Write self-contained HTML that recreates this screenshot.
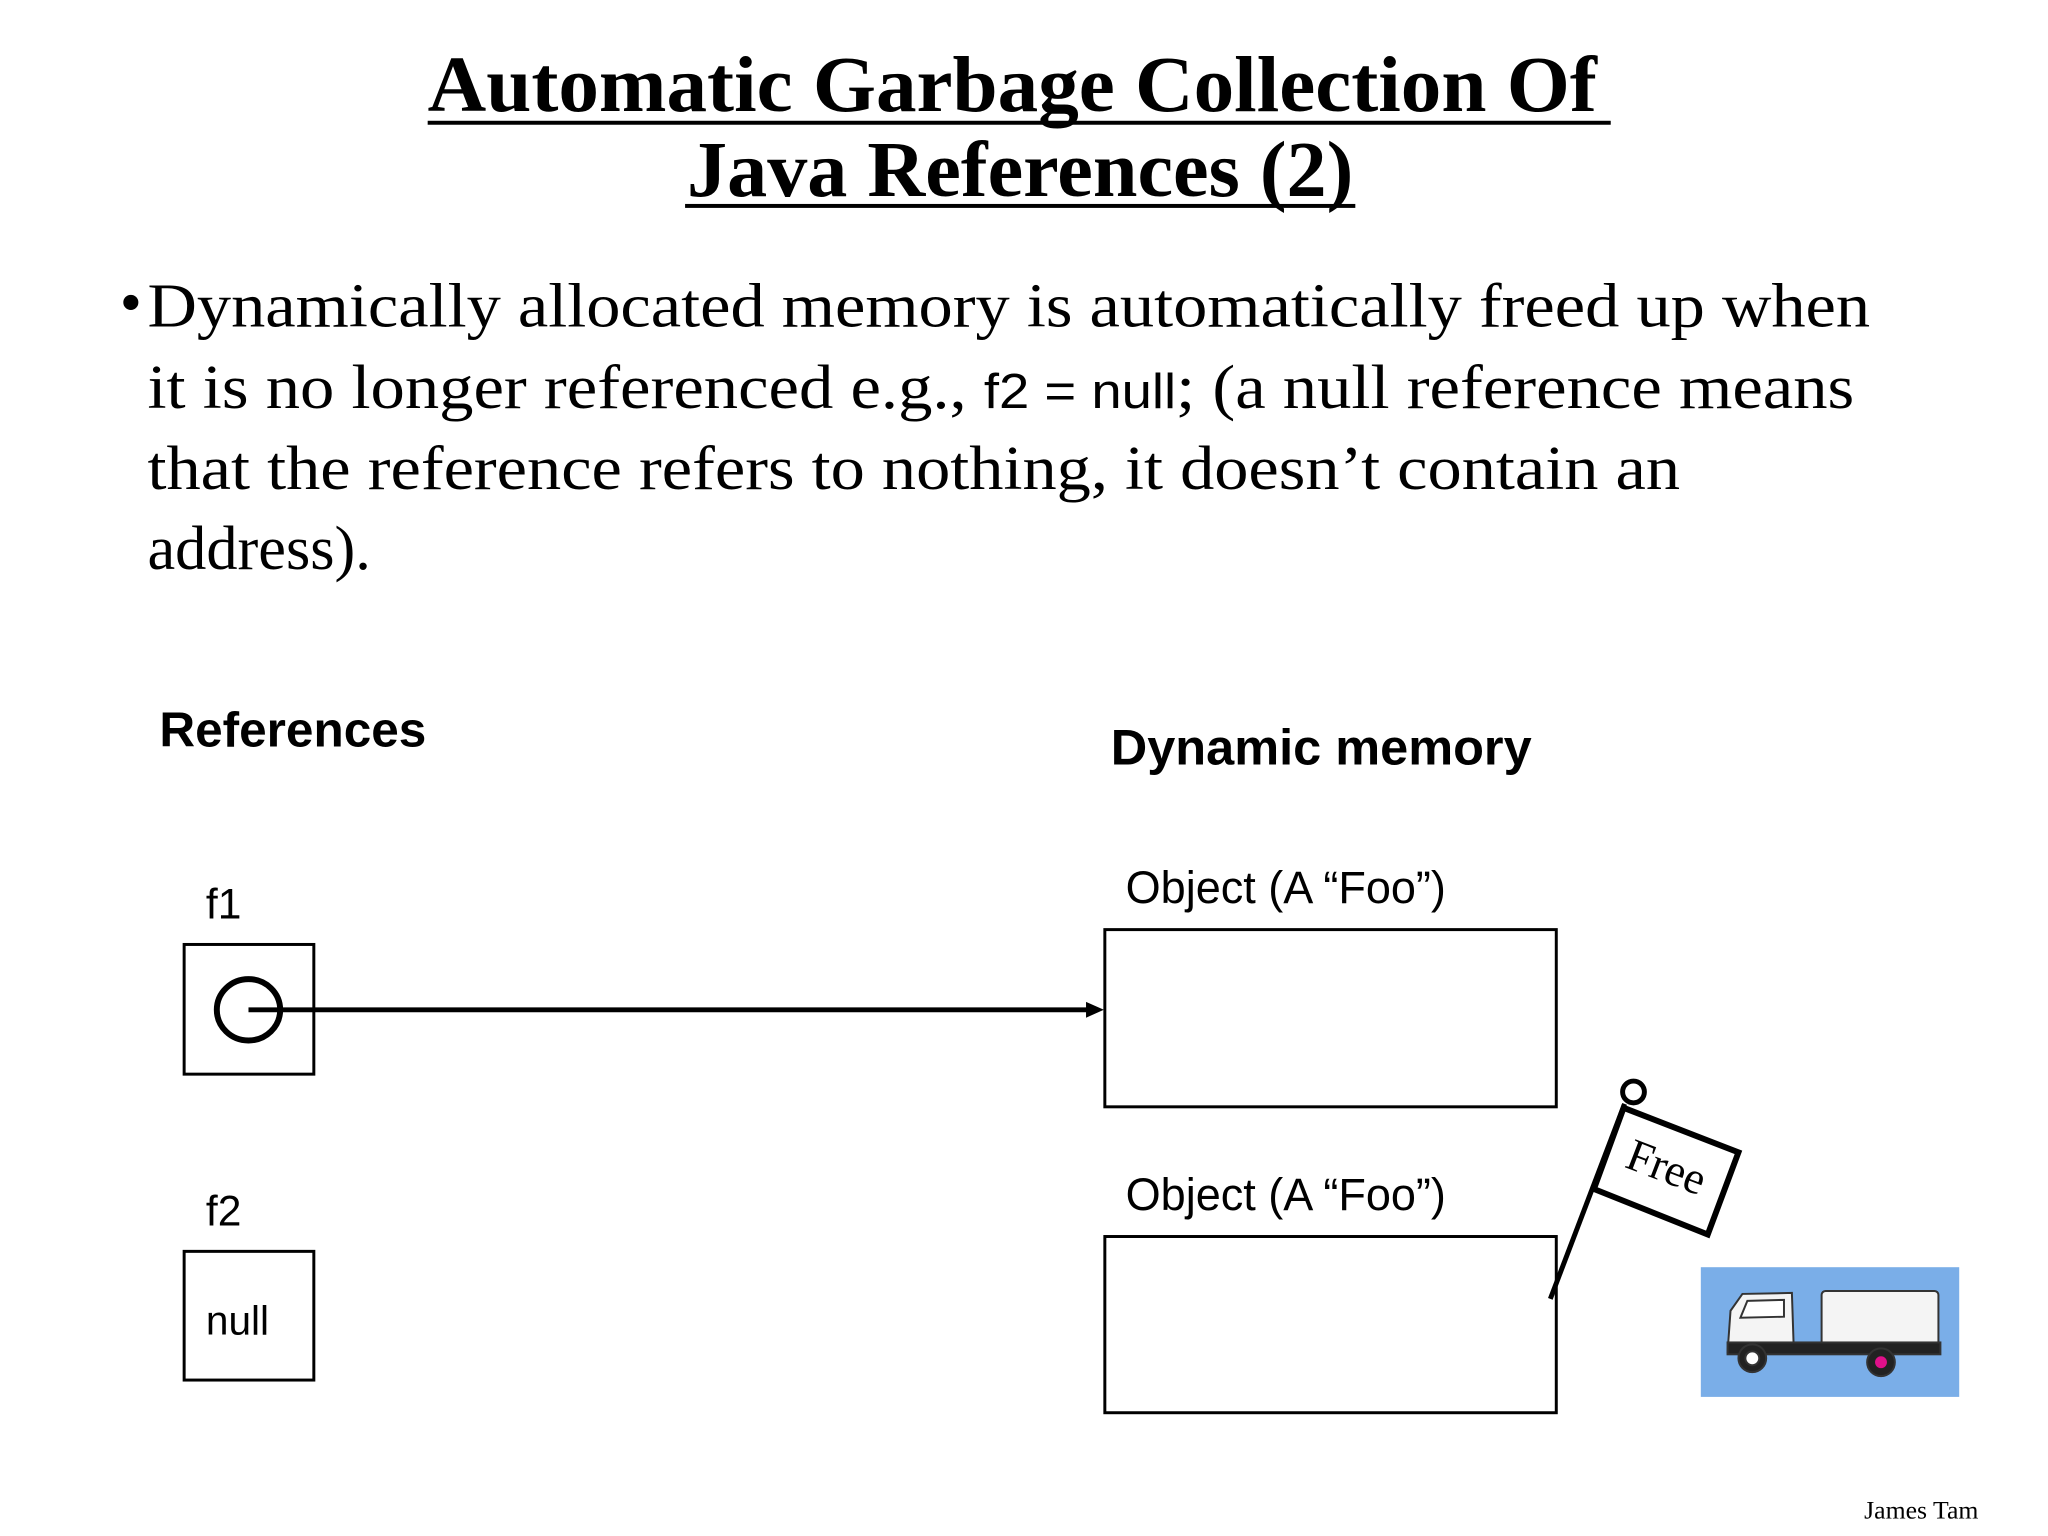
<!DOCTYPE html>
<html><head><meta charset="utf-8"><style>
html,body{margin:0;padding:0;background:#fff;}
svg{display:block}
</style></head><body>
<svg width="2048" height="1536" xmlns="http://www.w3.org/2000/svg">
<rect width="2048" height="1536" fill="#fff"/>
<g transform="scale(0.99)">
<g font-family="Liberation Serif, serif" font-weight="bold" font-size="80" fill="#000">
<text x="432" y="112" textLength="1181" lengthAdjust="spacingAndGlyphs">Automatic Garbage Collection Of</text>
<text x="694" y="198" textLength="673" lengthAdjust="spacingAndGlyphs">Java References (2)</text>
</g>
<rect x="432" y="122" width="1195" height="4" fill="#000"/>
<rect x="692" y="206" width="677" height="4" fill="#000"/>
<g font-family="Liberation Serif, serif" font-size="63" fill="#000">
<text x="121" y="327" font-size="64">•</text>
<text x="149" y="330" textLength="1740" lengthAdjust="spacingAndGlyphs">Dynamically allocated memory is automatically freed up when</text>
<text x="149" y="412" textLength="1724" lengthAdjust="spacingAndGlyphs">it is no longer referenced e.g., <tspan font-family="Liberation Sans, sans-serif" font-size="50">f2 = null</tspan>; (a null reference means</text>
<text x="149" y="494" textLength="1548" lengthAdjust="spacingAndGlyphs">that the reference refers to nothing, it doesn’t contain an</text>
<text x="149" y="575">address).</text>
</g>
<g font-family="Liberation Sans, sans-serif" fill="#000">
<text x="161" y="754" font-size="50" font-weight="bold">References</text>
<text x="1122" y="772" font-size="51" font-weight="bold">Dynamic memory</text>
<text x="208" y="928" font-size="43">f1</text>
<text x="208" y="1238" font-size="43">f2</text>
<text x="1137" y="912" font-size="45.5">Object (A “Foo”)</text>
<text x="1137" y="1222" font-size="45.5">Object (A “Foo”)</text>
<text x="208" y="1348" font-size="41">null</text>
</g>
<g fill="none" stroke="#000" stroke-width="3">
<rect x="186" y="954" width="131" height="131"/>
<rect x="186" y="1264" width="131" height="130"/>
<rect x="1116" y="939" width="456" height="179"/>
<rect x="1116" y="1249" width="456" height="178"/>
</g>
<ellipse cx="251" cy="1020" rx="32" ry="31" fill="none" stroke="#000" stroke-width="6"/>
<line x1="251" y1="1020" x2="1100" y2="1020" stroke="#000" stroke-width="5"/>
<polygon points="1115,1020 1097,1012 1097,1028" fill="#000"/>
<line x1="1566" y1="1312" x2="1641" y2="1115" stroke="#000" stroke-width="5"/>
<circle cx="1650" cy="1103" r="11" fill="#fff" stroke="#000" stroke-width="5"/>
<polygon points="1640,1119 1756,1164 1725,1247 1610,1201" fill="#fff" stroke="#000" stroke-width="6"/>
<text x="1683" y="1194" font-family="Liberation Serif, serif" font-size="46" text-anchor="middle" transform="rotate(21 1683 1180)">Free</text>
<rect x="1718" y="1280" width="261" height="131" fill="#7aaee8"/>
<g stroke="#333" stroke-width="2">
<rect x="1840" y="1304" width="118" height="62" rx="4" fill="#f4f4f4"/>
<path d="M1745,1366 L1748,1324 L1760,1307 L1810,1306 L1812,1366 Z" fill="#f4f4f4"/>
<path d="M1765,1314 L1802,1313 L1802,1330 L1758,1331 Z" fill="#fff"/>
<rect x="1745" y="1356" width="215" height="12" fill="#222"/>
<circle cx="1770" cy="1372" r="14" fill="#222"/>
<circle cx="1770" cy="1372" r="7" fill="#fff"/>
<circle cx="1900" cy="1376" r="14" fill="#222"/>
<circle cx="1900" cy="1376" r="6" fill="#e0108a" stroke="none"/>
</g>
<text x="1883" y="1534" font-family="Liberation Serif, serif" font-size="26">James Tam</text>
</g>
</svg>
</body></html>
